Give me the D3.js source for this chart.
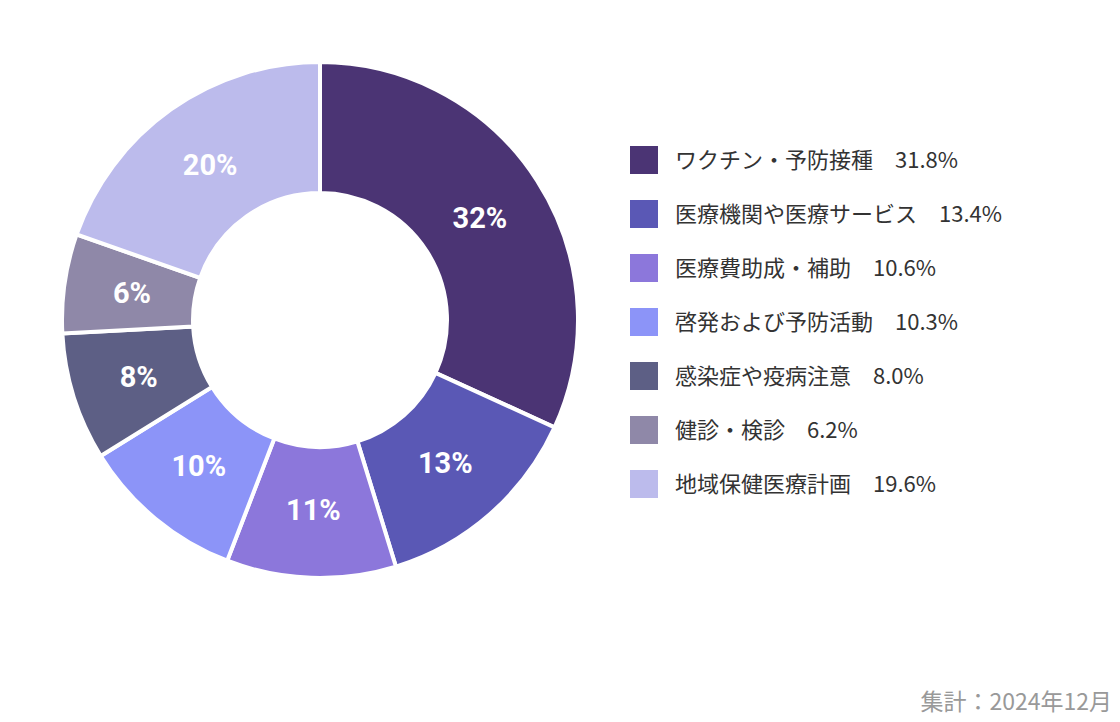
<!DOCTYPE html>
<html><head><meta charset="utf-8">
<script src="https://cdn.jsdelivr.net/npm/d3@7"></script>
<style>body{margin:0;background:#fff;}text{font-family:"Noto Sans CJK JP","Noto Sans",sans-serif;}</style>
</head><body><svg id="c" width="1120" height="722"></svg>
<script>
const categories=["ワクチン・予防接種","医療機関や医療サービス","医療費助成・補助","啓発および予防活動","感染症や疫病注意","健診・検診","地域保健医療計画"];
const values=[31.8,13.4,10.6,10.3,8.0,6.2,19.6];
const colors=["#4b3474","#5a58b5","#8c77db","#8c94f8","#5d5f85","#8f88a8","#bcbbec"];
const note="集計：2024年12月";
const svg=d3.select("#c");
const cx=320,cy=320,R=258,r=127;
const pie=d3.pie().sort(null).value(d=>d)(values);
const arc=d3.arc().innerRadius(r).outerRadius(R);
const g=svg.append("g").attr("transform",`translate(${cx},${cy})`);
g.selectAll("path").data(pie).join("path").attr("d",arc).attr("fill",(d,i)=>colors[i]).attr("stroke","#fff").attr("stroke-width",4);
const la=d3.arc().innerRadius(190).outerRadius(190);
g.selectAll("text").data(pie).join("text").attr("transform",d=>`translate(${la.centroid(d)})`)
 .attr("text-anchor","middle").attr("dy","0.35em").attr("fill","#fff").attr("font-size",29).attr("font-weight","bold")
 .style("font-family","Roboto,'Noto Sans',sans-serif")
 .text(d=>Math.round(d.data)+"%");
const y=d3.scaleBand().domain(categories).range([133,511]);
const lg=svg.append("g");
categories.forEach((c,i)=>{
 const yy=y(c)+y.bandwidth()/2;
 lg.append("rect").attr("x",630).attr("y",yy-14).attr("width",28).attr("height",28).attr("fill",colors[i]);
 lg.append("text").attr("x",675).attr("y",yy).attr("dy","0.35em").attr("font-size",22).attr("fill","#333")
  .text(c+"　"+values[i].toFixed(1)+"%");
});
svg.append("text").attr("x",1112).attr("y",710).attr("text-anchor","end").attr("font-size",23).attr("fill","#999").text(note);
</script></body></html>
